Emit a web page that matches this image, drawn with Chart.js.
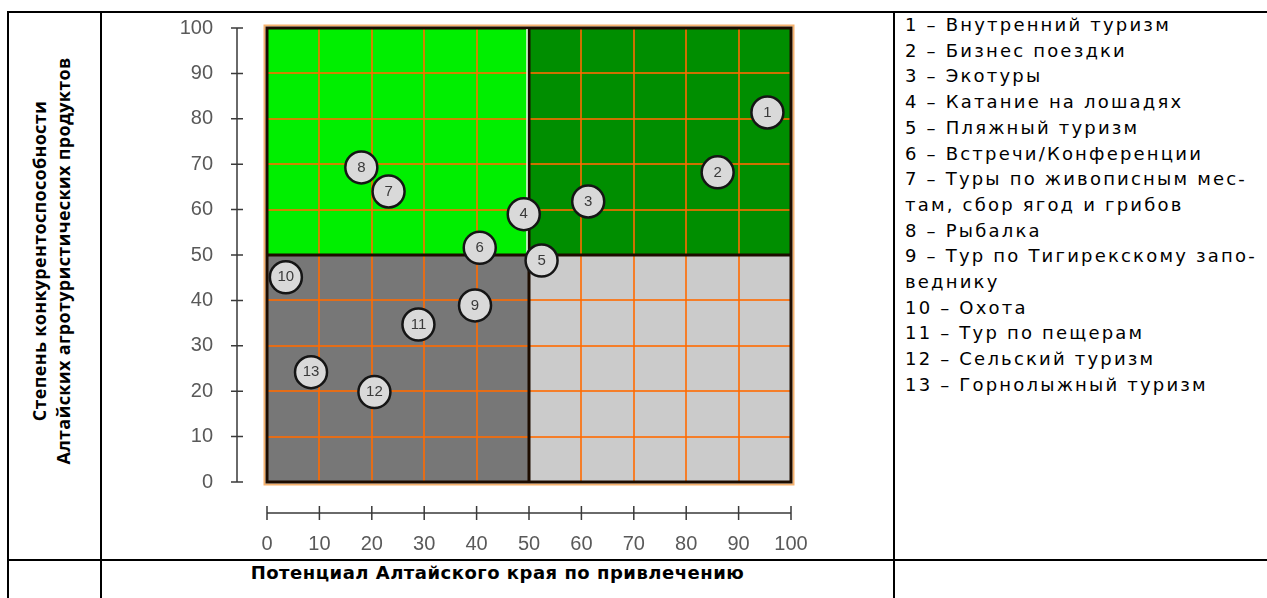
<!DOCTYPE html>
<html>
<head>
<meta charset="utf-8">
<script src="https://cdn.jsdelivr.net/npm/chart.js@4.4.1/dist/chart.umd.min.js"></script>
<style>
    body { margin: 0; width: 1267px; height: 598px; position: relative; overflow: hidden; background: #fff; }
    .rule { position: absolute; background: #000; }
    #chartBox { position: absolute; left: 0; top: 0; width: 1267px; height: 598px; }
    #legend { position: absolute; left: 905px; top: 12px; font: 18px "DejaVu Sans", sans-serif; letter-spacing: 2.2px;
              line-height: 25.7px; color: #000; white-space: pre-line; }
    #yTitle { position: absolute; left: 51px; top: 261px; width: 520px; transform: translate(-50%, -50%) rotate(-90deg);
              font: bold 18px "Open Sans", sans-serif; letter-spacing: 0.3px; line-height: 24px; text-align: center; color: #000; }
    #xTitle { position: absolute; left: 102px; width: 791px; top: 562px; text-align: center; line-height: 20px;
              font: bold 18px "DejaVu Sans", sans-serif; letter-spacing: 0.5px; color: #000; }
</style>
</head>
<body>
<!-- table rules -->
<div class="rule" style="left:7px;top:11px;width:1260px;height:2px"></div>
<div class="rule" style="left:7px;top:559px;width:1260px;height:2px"></div>
<div class="rule" style="left:7px;top:11px;width:2px;height:587px"></div>
<div class="rule" style="left:100px;top:11px;width:2px;height:587px"></div>
<div class="rule" style="left:893px;top:11px;width:2px;height:587px"></div>

<div id="yTitle">Степень конкурентоспособности<br>Алтайских агротуристических продуктов</div>
<div id="xTitle">Потенциал Алтайского края по привлечению</div>
<div id="legend"></div>

<div id="chartBox"><canvas id="matrixChart"></canvas></div>

<script>
// point numbers and their positions (x = potential, y = competitiveness)
const pointNames = ['1', '2', '3', '4', '5', '6', '7', '8', '9', '10', '11', '12', '13'];
const potential = [95.5, 86, 61.3, 49, 52.4, 40.6, 23.2, 18, 39.7, 3.6, 28.9, 20.5, 8.4];
const competitiveness = [81.4, 68.2, 61.8, 59, 48.8, 51.6, 64, 69.3, 38.9, 45.1, 34.7, 19.8, 24.2];
const tickValues = [0, 10, 20, 30, 40, 50, 60, 70, 80, 90, 100];
const legendLabels = [
    '1 – Внутренний туризм',
    '2 – Бизнес поездки',
    '3 – Экотуры',
    '4 – Катание на лошадях',
    '5 – Пляжный туризм',
    '6 – Встречи/Конференции',
    '7 – Туры по живописным мес-\nтам, сбор ягод и грибов',
    '8 – Рыбалка',
    '9 – Тур по Тигирекскому запо-\nведнику',
    '10 – Охота',
    '11 – Тур по пещерам',
    '12 – Сельский туризм',
    '13 – Горнолыжный туризм'
];

document.getElementById('legend').textContent = legendLabels.join('\n');

// quadrant fills, under the grid
const quadrants = {
    id: 'quadrants',
    beforeDraw(chart) {
        let ctx = chart.ctx;
        let x = chart.scales.x, y = chart.scales.y;
        let x0 = x.getPixelForValue(0), xm = x.getPixelForValue(50), x1 = x.getPixelForValue(100);
        let y0 = y.getPixelForValue(0), ym = y.getPixelForValue(50), y1 = y.getPixelForValue(100);
        ctx.save();
        ctx.fillStyle = '#00ef00'; ctx.fillRect(x0, y1, xm - x0, ym - y1);
        ctx.fillStyle = '#008e00'; ctx.fillRect(xm, y1, x1 - xm, ym - y1);
        ctx.fillStyle = '#777777'; ctx.fillRect(x0, ym, xm - x0, y0 - ym);
        ctx.fillStyle = '#cbcbcb'; ctx.fillRect(xm, ym, x1 - xm, y0 - ym);
        ctx.restore();
    }
};

// dark frame lines over the grid
const frame = {
    id: 'frame',
    beforeDatasetsDraw(chart) {
        let ctx = chart.ctx;
        let x = chart.scales.x, y = chart.scales.y;
        let x0 = x.getPixelForValue(0), xm = x.getPixelForValue(50), x1 = x.getPixelForValue(100);
        let y0 = y.getPixelForValue(0), ym = y.getPixelForValue(50), y1 = y.getPixelForValue(100);
        ctx.save();
        ctx.strokeStyle = '#f6b26e';
        ctx.lineWidth = 2;
        ctx.strokeRect(x0 - 2.5, y1 - 2.5, x1 - x0 + 5, y0 - y1 + 5);
        ctx.strokeStyle = '#1c0c00';
        ctx.lineWidth = 3;
        ctx.strokeRect(x0, y1, x1 - x0, y0 - y1);
        ctx.beginPath();
        ctx.moveTo(x0, ym); ctx.lineTo(x1, ym);
        ctx.moveTo(xm, y1); ctx.lineTo(xm, y0);
        ctx.stroke();
        ctx.strokeStyle = '#f4f4f4';
        ctx.lineWidth = 1.5;
        ctx.beginPath();
        ctx.moveTo(xm - 2, y1 + 1); ctx.lineTo(xm - 2, ym - 1);
        ctx.stroke();
        ctx.restore();
    }
};

// detached axis lines with crossing ticks
const axisLines = {
    id: 'axisLines',
    afterDraw(chart) {
        let ctx = chart.ctx;
        let x = chart.scales.x, y = chart.scales.y;
        let ax = chart.chartArea.left - 30;
        let ay = chart.chartArea.bottom + 31;
        ctx.save();
        ctx.strokeStyle = '#3a3a3a';
        ctx.lineWidth = 1.5;
        ctx.beginPath();
        ctx.moveTo(ax, y.getPixelForValue(0)); ctx.lineTo(ax, y.getPixelForValue(100));
        ctx.moveTo(x.getPixelForValue(0), ay); ctx.lineTo(x.getPixelForValue(100), ay);
        tickValues.forEach(v => {
            let py = y.getPixelForValue(v);
            ctx.moveTo(ax - 6, py); ctx.lineTo(ax + 6, py);
            let px = x.getPixelForValue(v);
            ctx.moveTo(px, ay - 7); ctx.lineTo(px, ay + 7);
        });
        ctx.stroke();
        ctx.restore();
    }
};

// numbers inside the circles
const pointNumbers = {
    id: 'pointNumbers',
    afterDatasetsDraw(chart) {
        let ctx = chart.ctx;
        let meta = chart.getDatasetMeta(0);
        ctx.save();
        ctx.font = '15px "Liberation Sans", Arial, sans-serif';
        ctx.fillStyle = '#3a3a3a';
        ctx.textAlign = 'center';
        ctx.textBaseline = 'middle';
        meta.data.forEach((pt, i) => {
            ctx.fillText(pointNames[i], pt.x, pt.y);
        });
        ctx.restore();
    }
};

const tickFont = { family: '"Liberation Sans", Arial, sans-serif', size: 20 };

new Chart(document.getElementById('matrixChart'), {
    type: 'scatter',
    data: {
        datasets: [{
            data: potential.map((v, i) => ({ x: v, y: competitiveness[i] })),
            pointRadius: 16,
            pointHoverRadius: 16,
            pointBackgroundColor: '#d9d9d9',
            pointBorderColor: '#151515',
            pointBorderWidth: 2.5
        }]
    },
    options: {
        responsive: true,
        maintainAspectRatio: false,
        animation: false,
        events: [],
        layout: { padding: { left: 160, right: 476, top: 28, bottom: 41 } },
        plugins: { legend: { display: false }, tooltip: { enabled: false } },
        scales: {
            x: {
                type: 'linear', min: 0, max: 100,
                afterFit: s => { s.height = 75; },
                border: { display: false },
                grid: { color: 'rgba(255,106,0,0.8)', lineWidth: 2, drawTicks: false },
                ticks: { stepSize: 10, padding: 50, color: '#595959', font: tickFont }
            },
            y: {
                type: 'linear', min: 0, max: 100,
                // tick padding would otherwise push the plot top down
                afterFit: s => { s.width = 107; s.paddingTop = 12; s.paddingBottom = 12; },
                border: { display: false },
                grid: { color: 'rgba(255,106,0,0.8)', lineWidth: 2, drawTicks: false },
                ticks: { stepSize: 10, padding: 54, color: '#595959', font: tickFont }
            }
        }
    },
    plugins: [quadrants, frame, axisLines, pointNumbers]
});
</script>
</body>
</html>
